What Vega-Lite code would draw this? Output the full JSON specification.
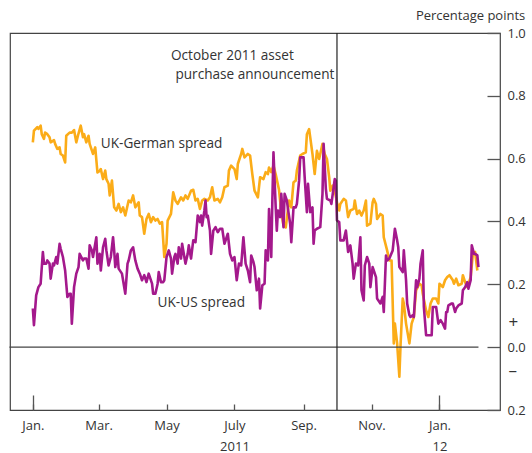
{
  "$schema": "https://vega.github.io/schema/vega-lite/v6.json",
  "width": 490,
  "height": 377,
  "autosize": {"type": "none"},
  "padding": {"left": 10, "top": 33, "right": 32, "bottom": 43},
  "background": "white",
  "title": {"text": "Percentage points", "anchor": "end", "frame": "bounds", "font": "Open Sans", "fontSize": 13, "fontWeight": "normal", "color": "#333", "offset": 4},
  "config": {
    "view": {"stroke": "#444", "strokeWidth": 1.2},
    "axis": {"grid": false, "domain": false, "tickColor": "#555", "tickWidth": 1.3, "labelColor": "#333", "labelFont": "Open Sans", "labelFontSize": 13, "title": null, "labelOverlap": false, "labelFlush": false, "labelBound": false}
  },
  "resolve": {"axis": {"x": "independent", "y": "independent"}},
  "layer": [
    {
      "data": {"values": [
        {"date":"2011-01-01","v":0.652},{"date":"2011-01-02","v":0.689},{"date":"2011-01-05","v":0.700},{"date":"2011-01-06","v":0.695},{"date":"2011-01-08","v":0.705},{"date":"2011-01-09","v":0.678},{"date":"2011-01-11","v":0.663},{"date":"2011-01-12","v":0.683},{"date":"2011-01-14","v":0.678},{"date":"2011-01-16","v":0.668},{"date":"2011-01-17","v":0.652},{"date":"2011-01-20","v":0.659},{"date":"2011-01-21","v":0.647},{"date":"2011-01-23","v":0.631},{"date":"2011-01-25","v":0.636},{"date":"2011-01-26","v":0.615},{"date":"2011-01-28","v":0.610},{"date":"2011-01-30","v":0.588},{"date":"2011-01-31","v":0.673},
        {"date":"2011-02-03","v":0.683},{"date":"2011-02-05","v":0.683},{"date":"2011-02-07","v":0.691},{"date":"2011-02-09","v":0.652},{"date":"2011-02-11","v":0.680},{"date":"2011-02-13","v":0.705},{"date":"2011-02-15","v":0.668},{"date":"2011-02-16","v":0.678},{"date":"2011-02-18","v":0.652},{"date":"2011-02-20","v":0.673},{"date":"2011-02-21","v":0.647},{"date":"2011-02-24","v":0.615},{"date":"2011-02-26","v":0.636},{"date":"2011-02-28","v":0.556},
        {"date":"2011-03-02","v":0.561},{"date":"2011-03-03","v":0.567},{"date":"2011-03-05","v":0.535},{"date":"2011-03-07","v":0.562},{"date":"2011-03-08","v":0.535},{"date":"2011-03-10","v":0.520},{"date":"2011-03-11","v":0.483},{"date":"2011-03-13","v":0.530},{"date":"2011-03-15","v":0.445},{"date":"2011-03-17","v":0.435},{"date":"2011-03-19","v":0.456},{"date":"2011-03-21","v":0.430},{"date":"2011-03-23","v":0.445},{"date":"2011-03-25","v":0.419},{"date":"2011-03-28","v":0.467},{"date":"2011-03-30","v":0.461},
        {"date":"2011-04-01","v":0.483},{"date":"2011-04-03","v":0.445},{"date":"2011-04-06","v":0.461},{"date":"2011-04-07","v":0.419},{"date":"2011-04-09","v":0.414},{"date":"2011-04-11","v":0.361},{"date":"2011-04-13","v":0.408},{"date":"2011-04-15","v":0.424},{"date":"2011-04-17","v":0.398},{"date":"2011-04-19","v":0.414},{"date":"2011-04-21","v":0.403},{"date":"2011-04-23","v":0.408},{"date":"2011-04-25","v":0.393},{"date":"2011-04-27","v":0.398},{"date":"2011-04-29","v":0.287},
        {"date":"2011-05-01","v":0.329},{"date":"2011-05-02","v":0.403},{"date":"2011-05-05","v":0.424},{"date":"2011-05-07","v":0.493},{"date":"2011-05-09","v":0.467},{"date":"2011-05-11","v":0.456},{"date":"2011-05-14","v":0.477},{"date":"2011-05-16","v":0.467},{"date":"2011-05-18","v":0.483},{"date":"2011-05-20","v":0.472},{"date":"2011-05-23","v":0.498},{"date":"2011-05-25","v":0.501},{"date":"2011-05-27","v":0.467},{"date":"2011-05-29","v":0.472},{"date":"2011-05-31","v":0.440},
        {"date":"2011-06-02","v":0.467},{"date":"2011-06-04","v":0.472},{"date":"2011-06-07","v":0.467},{"date":"2011-06-09","v":0.477},{"date":"2011-06-11","v":0.509},{"date":"2011-06-13","v":0.467},{"date":"2011-06-16","v":0.472},{"date":"2011-06-18","v":0.461},{"date":"2011-06-20","v":0.477},{"date":"2011-06-22","v":0.509},{"date":"2011-06-25","v":0.514},{"date":"2011-06-26","v":0.562},{"date":"2011-06-28","v":0.578},
        {"date":"2011-07-01","v":0.567},{"date":"2011-07-03","v":0.535},{"date":"2011-07-04","v":0.583},{"date":"2011-07-07","v":0.615},{"date":"2011-07-08","v":0.631},{"date":"2011-07-10","v":0.604},{"date":"2011-07-13","v":0.615},{"date":"2011-07-15","v":0.610},{"date":"2011-07-17","v":0.551},{"date":"2011-07-19","v":0.498},{"date":"2011-07-22","v":0.477},{"date":"2011-07-24","v":0.541},{"date":"2011-07-27","v":0.535},{"date":"2011-07-29","v":0.557},{"date":"2011-07-31","v":0.551},
        {"date":"2011-08-01","v":0.572},{"date":"2011-08-03","v":0.557},{"date":"2011-08-05","v":0.578},{"date":"2011-08-07","v":0.55},{"date":"2011-08-10","v":0.50},{"date":"2011-08-12","v":0.43},{"date":"2011-08-14","v":0.387},{"date":"2011-08-16","v":0.381},{"date":"2011-08-19","v":0.467},{"date":"2011-08-21","v":0.445},{"date":"2011-08-23","v":0.525},{"date":"2011-08-25","v":0.530},{"date":"2011-08-26","v":0.562},{"date":"2011-08-29","v":0.610},{"date":"2011-08-31","v":0.615},
        {"date":"2011-09-03","v":0.620},{"date":"2011-09-04","v":0.678},{"date":"2011-09-06","v":0.694},{"date":"2011-09-07","v":0.668},{"date":"2011-09-09","v":0.615},{"date":"2011-09-11","v":0.551},{"date":"2011-09-13","v":0.625},{"date":"2011-09-15","v":0.599},{"date":"2011-09-16","v":0.615},{"date":"2011-09-18","v":0.647},{"date":"2011-09-20","v":0.615},{"date":"2011-09-22","v":0.599},{"date":"2011-09-24","v":0.541},{"date":"2011-09-25","v":0.498},{"date":"2011-09-27","v":0.514},{"date":"2011-09-29","v":0.498},
        {"date":"2011-10-01","v":0.461},{"date":"2011-10-03","v":0.435},{"date":"2011-10-04","v":0.456},{"date":"2011-10-07","v":0.472},{"date":"2011-10-09","v":0.467},{"date":"2011-10-11","v":0.414},{"date":"2011-10-13","v":0.435},{"date":"2011-10-16","v":0.440},{"date":"2011-10-17","v":0.467},{"date":"2011-10-19","v":0.424},{"date":"2011-10-21","v":0.435},{"date":"2011-10-23","v":0.419},{"date":"2011-10-25","v":0.435},{"date":"2011-10-27","v":0.467},{"date":"2011-10-28","v":0.387},{"date":"2011-10-31","v":0.393},
        {"date":"2011-11-02","v":0.461},{"date":"2011-11-03","v":0.472},{"date":"2011-11-05","v":0.456},{"date":"2011-11-06","v":0.408},{"date":"2011-11-09","v":0.424},{"date":"2011-11-11","v":0.419},{"date":"2011-11-12","v":0.350},{"date":"2011-11-15","v":0.308},{"date":"2011-11-17","v":0.276},{"date":"2011-11-19","v":0.276},{"date":"2011-11-21","v":0.012},{"date":"2011-11-22","v":0.075},{"date":"2011-11-24","v":0.012},{"date":"2011-11-26","v":-0.094},{"date":"2011-11-27","v":0.001},{"date":"2011-11-29","v":0.155},{"date":"2011-11-30","v":0.139},
        {"date":"2011-12-02","v":0.075},{"date":"2011-12-05","v":0.012},{"date":"2011-12-07","v":0.075},{"date":"2011-12-09","v":0.096},{"date":"2011-12-11","v":0.181},{"date":"2011-12-14","v":0.202},{"date":"2011-12-16","v":0.197},{"date":"2011-12-17","v":0.170},{"date":"2011-12-20","v":0.117},{"date":"2011-12-22","v":0.096},{"date":"2011-12-24","v":0.139},{"date":"2011-12-26","v":0.155},{"date":"2011-12-29","v":0.155},{"date":"2011-12-31","v":0.139},
        {"date":"2012-01-01","v":0.202},{"date":"2012-01-04","v":0.191},{"date":"2012-01-06","v":0.213},{"date":"2012-01-08","v":0.223},{"date":"2012-01-10","v":0.229},{"date":"2012-01-13","v":0.213},{"date":"2012-01-14","v":0.202},{"date":"2012-01-16","v":0.218},{"date":"2012-01-18","v":0.197},{"date":"2012-01-21","v":0.202},{"date":"2012-01-22","v":0.229},{"date":"2012-01-24","v":0.207},{"date":"2012-01-26","v":0.191},{"date":"2012-01-29","v":0.223},{"date":"2012-01-31","v":0.297},{"date":"2012-02-02","v":0.303},{"date":"2012-02-04","v":0.244}
      ]},
      "mark": {"type": "line", "color": "#FBAC18", "strokeWidth": 2.6, "strokeJoin": "round"},
      "encoding": {
        "x": {"field": "date", "type": "temporal",
          "scale": {"type": "utc", "domain": [{"year": 2010, "month": 12, "date": 11, "hours": 12, "utc": true}, {"year": 2012, "month": 2, "date": 24, "hours": 8, "utc": true}]},
          "axis": {"orient": "bottom", "tickSize": -6, "labelPadding": 15,
            "values": [{"year": 2011, "month": 1, "date": 1, "utc": true}, {"year": 2011, "month": 3, "date": 1, "utc": true}, {"year": 2011, "month": 5, "date": 1, "utc": true}, {"year": 2011, "month": 7, "date": 1, "utc": true}, {"year": 2011, "month": 9, "date": 1, "utc": true}, {"year": 2011, "month": 11, "date": 1, "utc": true}, {"year": 2012, "month": 1, "date": 1, "utc": true}],
            "labelExpr": "({'01':'Jan.','03':'Mar.','05':'May','07':'July','09':'Sep.','11':'Nov.'})[utcFormat(datum.value,'%m')]"}},
        "y": {"field": "v", "type": "quantitative",
          "scale": {"domain": [-0.2, 1.0], "nice": false, "zero": false},
          "axis": {"orient": "right", "tickSize": -13, "labelPadding": 20, "values": [-0.2, 0, 0.2, 0.4, 0.6, 0.8, 1.0], "labelExpr": "format(abs(datum.value), '.1f')"}}
      }
    },
    {
      "data": {"values": [
        {"date":"2011-01-01","v":0.123},{"date":"2011-01-02","v":0.070},{"date":"2011-01-04","v":0.165},{"date":"2011-01-06","v":0.191},{"date":"2011-01-08","v":0.202},{"date":"2011-01-10","v":0.303},{"date":"2011-01-11","v":0.266},{"date":"2011-01-13","v":0.266},{"date":"2011-01-14","v":0.276},{"date":"2011-01-16","v":0.266},{"date":"2011-01-17","v":0.218},{"date":"2011-01-19","v":0.266},{"date":"2011-01-20","v":0.260},{"date":"2011-01-22","v":0.287},{"date":"2011-01-23","v":0.266},{"date":"2011-01-25","v":0.329},{"date":"2011-01-26","v":0.313},{"date":"2011-01-28","v":0.287},{"date":"2011-01-30","v":0.244},
        {"date":"2011-02-01","v":0.160},{"date":"2011-02-03","v":0.170},{"date":"2011-02-04","v":0.170},{"date":"2011-02-05","v":0.075},{"date":"2011-02-07","v":0.191},{"date":"2011-02-09","v":0.234},{"date":"2011-02-11","v":0.255},{"date":"2011-02-12","v":0.297},{"date":"2011-02-15","v":0.276},{"date":"2011-02-16","v":0.282},{"date":"2011-02-18","v":0.282},{"date":"2011-02-20","v":0.250},{"date":"2011-02-21","v":0.324},{"date":"2011-02-23","v":0.308},{"date":"2011-02-24","v":0.287},{"date":"2011-02-27","v":0.350},{"date":"2011-02-28","v":0.266},
        {"date":"2011-03-02","v":0.297},{"date":"2011-03-03","v":0.244},{"date":"2011-03-05","v":0.318},{"date":"2011-03-07","v":0.345},{"date":"2011-03-08","v":0.308},{"date":"2011-03-10","v":0.260},{"date":"2011-03-12","v":0.287},{"date":"2011-03-14","v":0.350},{"date":"2011-03-15","v":0.308},{"date":"2011-03-16","v":0.255},{"date":"2011-03-18","v":0.297},{"date":"2011-03-19","v":0.250},{"date":"2011-03-22","v":0.234},{"date":"2011-03-23","v":0.213},{"date":"2011-03-25","v":0.170},{"date":"2011-03-27","v":0.266},{"date":"2011-03-28","v":0.276},{"date":"2011-03-30","v":0.308},
        {"date":"2011-04-01","v":0.318},{"date":"2011-04-03","v":0.276},{"date":"2011-04-05","v":0.250},{"date":"2011-04-07","v":0.234},{"date":"2011-04-09","v":0.213},{"date":"2011-04-11","v":0.229},{"date":"2011-04-13","v":0.207},{"date":"2011-04-15","v":0.234},{"date":"2011-04-18","v":0.202},{"date":"2011-04-19","v":0.170},{"date":"2011-04-21","v":0.170},{"date":"2011-04-23","v":0.202},{"date":"2011-04-24","v":0.239},{"date":"2011-04-26","v":0.207},{"date":"2011-04-28","v":0.207},{"date":"2011-04-29","v":0.213},
        {"date":"2011-05-01","v":0.287},{"date":"2011-05-03","v":0.308},{"date":"2011-05-05","v":0.282},{"date":"2011-05-06","v":0.234},{"date":"2011-05-08","v":0.287},{"date":"2011-05-09","v":0.297},{"date":"2011-05-11","v":0.266},{"date":"2011-05-12","v":0.318},{"date":"2011-05-14","v":0.282},{"date":"2011-05-15","v":0.329},{"date":"2011-05-17","v":0.287},{"date":"2011-05-18","v":0.266},{"date":"2011-05-20","v":0.297},{"date":"2011-05-21","v":0.324},{"date":"2011-05-23","v":0.282},{"date":"2011-05-25","v":0.340},{"date":"2011-05-27","v":0.334},{"date":"2011-05-29","v":0.419},{"date":"2011-05-31","v":0.398},
        {"date":"2011-06-01","v":0.419},{"date":"2011-06-02","v":0.387},{"date":"2011-06-04","v":0.435},{"date":"2011-06-05","v":0.467},{"date":"2011-06-06","v":0.414},{"date":"2011-06-07","v":0.419},{"date":"2011-06-09","v":0.371},{"date":"2011-06-10","v":0.297},{"date":"2011-06-12","v":0.371},{"date":"2011-06-14","v":0.382},{"date":"2011-06-16","v":0.366},{"date":"2011-06-18","v":0.377},{"date":"2011-06-20","v":0.377},{"date":"2011-06-22","v":0.329},{"date":"2011-06-25","v":0.361},{"date":"2011-06-27","v":0.297},{"date":"2011-06-29","v":0.276},
        {"date":"2011-07-01","v":0.287},{"date":"2011-07-03","v":0.213},{"date":"2011-07-05","v":0.266},{"date":"2011-07-07","v":0.260},{"date":"2011-07-09","v":0.350},{"date":"2011-07-11","v":0.266},{"date":"2011-07-13","v":0.244},{"date":"2011-07-15","v":0.207},{"date":"2011-07-16","v":0.292},{"date":"2011-07-18","v":0.271},{"date":"2011-07-19","v":0.255},{"date":"2011-07-21","v":0.181},{"date":"2011-07-23","v":0.218},{"date":"2011-07-24","v":0.123},{"date":"2011-07-26","v":0.197},{"date":"2011-07-28","v":0.202},{"date":"2011-07-29","v":0.308},{"date":"2011-07-31","v":0.276},
        {"date":"2011-08-01","v":0.440},{"date":"2011-08-03","v":0.287},{"date":"2011-08-04","v":0.467},{"date":"2011-08-05","v":0.620},{"date":"2011-08-07","v":0.445},{"date":"2011-08-08","v":0.371},{"date":"2011-08-09","v":0.435},{"date":"2011-08-11","v":0.414},{"date":"2011-08-12","v":0.488},{"date":"2011-08-14","v":0.382},{"date":"2011-08-15","v":0.488},{"date":"2011-08-17","v":0.467},{"date":"2011-08-18","v":0.440},{"date":"2011-08-20","v":0.393},{"date":"2011-08-21","v":0.334},{"date":"2011-08-23","v":0.445},{"date":"2011-08-25","v":0.445},{"date":"2011-08-26","v":0.456},{"date":"2011-08-28","v":0.530},{"date":"2011-08-29","v":0.604},
        {"date":"2011-09-01","v":0.604},{"date":"2011-09-02","v":0.541},{"date":"2011-09-04","v":0.430},{"date":"2011-09-05","v":0.520},{"date":"2011-09-07","v":0.430},{"date":"2011-09-09","v":0.445},{"date":"2011-09-10","v":0.329},{"date":"2011-09-11","v":0.371},{"date":"2011-09-13","v":0.377},{"date":"2011-09-16","v":0.382},{"date":"2011-09-18","v":0.488},{"date":"2011-09-19","v":0.647},{"date":"2011-09-21","v":0.504},{"date":"2011-09-22","v":0.472},{"date":"2011-09-25","v":0.467},{"date":"2011-09-26","v":0.456},{"date":"2011-09-28","v":0.509},{"date":"2011-09-29","v":0.535},{"date":"2011-09-30","v":0.530},
        {"date":"2011-10-01","v":0.403},{"date":"2011-10-03","v":0.398},{"date":"2011-10-04","v":0.340},{"date":"2011-10-07","v":0.340},{"date":"2011-10-09","v":0.371},{"date":"2011-10-11","v":0.303},{"date":"2011-10-13","v":0.324},{"date":"2011-10-15","v":0.266},{"date":"2011-10-16","v":0.218},{"date":"2011-10-18","v":0.266},{"date":"2011-10-20","v":0.260},{"date":"2011-10-22","v":0.350},{"date":"2011-10-23","v":0.181},{"date":"2011-10-25","v":0.149},{"date":"2011-10-26","v":0.260},{"date":"2011-10-28","v":0.287},{"date":"2011-10-30","v":0.266},{"date":"2011-10-31","v":0.191},
        {"date":"2011-11-02","v":0.255},{"date":"2011-11-03","v":0.244},{"date":"2011-11-05","v":0.223},{"date":"2011-11-06","v":0.155},{"date":"2011-11-09","v":0.139},{"date":"2011-11-11","v":0.160},{"date":"2011-11-12","v":0.112},{"date":"2011-11-14","v":0.292},{"date":"2011-11-15","v":0.276},{"date":"2011-11-17","v":0.282},{"date":"2011-11-20","v":0.308},{"date":"2011-11-22","v":0.377},{"date":"2011-11-24","v":0.340},{"date":"2011-11-25","v":0.318},{"date":"2011-11-26","v":0.255},{"date":"2011-11-29","v":0.239},{"date":"2011-11-30","v":0.308},
        {"date":"2011-12-02","v":0.213},{"date":"2011-12-03","v":0.139},{"date":"2011-12-05","v":0.102},{"date":"2011-12-06","v":0.096},{"date":"2011-12-08","v":0.102},{"date":"2011-12-09","v":0.096},{"date":"2011-12-11","v":0.213},{"date":"2011-12-12","v":0.191},{"date":"2011-12-14","v":0.218},{"date":"2011-12-15","v":0.266},{"date":"2011-12-17","v":0.308},{"date":"2011-12-18","v":0.128},{"date":"2011-12-20","v":0.038},{"date":"2011-12-23","v":0.038},{"date":"2011-12-25","v":0.038},{"date":"2011-12-26","v":0.128},{"date":"2011-12-28","v":0.128},{"date":"2011-12-29","v":0.128},{"date":"2011-12-31","v":0.075},
        {"date":"2012-01-02","v":0.086},{"date":"2012-01-04","v":0.075},{"date":"2012-01-06","v":0.059},{"date":"2012-01-07","v":0.112},{"date":"2012-01-08","v":0.112},{"date":"2012-01-09","v":0.133},{"date":"2012-01-12","v":0.139},{"date":"2012-01-13","v":0.139},{"date":"2012-01-15","v":0.112},{"date":"2012-01-16","v":0.123},{"date":"2012-01-18","v":0.133},{"date":"2012-01-21","v":0.139},{"date":"2012-01-22","v":0.181},{"date":"2012-01-24","v":0.191},{"date":"2012-01-26","v":0.207},{"date":"2012-01-27","v":0.186},{"date":"2012-01-29","v":0.213},{"date":"2012-01-30","v":0.324},{"date":"2012-02-01","v":0.297},{"date":"2012-02-02","v":0.297},{"date":"2012-02-04","v":0.292},{"date":"2012-02-05","v":0.255}
      ]},
      "mark": {"type": "line", "color": "#A4198C", "strokeWidth": 2.6, "strokeJoin": "round"},
      "encoding": {
        "x": {"field": "date", "type": "temporal",
          "scale": {"type": "utc", "domain": [{"year": 2010, "month": 12, "date": 11, "hours": 12, "utc": true}, {"year": 2012, "month": 2, "date": 24, "hours": 8, "utc": true}]},
          "axis": null},
        "y": {"field": "v", "type": "quantitative", "scale": {"domain": [-0.2, 1.0], "nice": false, "zero": false}, "axis": null}
      }
    },
    {
      "data": {"values": [{"d1": "2010-12-11", "d2": "2012-02-05", "v": 0}]},
      "mark": {"type": "rule", "color": "#444", "strokeWidth": 1.3},
      "encoding": {
        "x": {"field": "d1", "type": "temporal",
          "scale": {"type": "utc", "domain": [{"year": 2010, "month": 12, "date": 11, "hours": 12, "utc": true}, {"year": 2012, "month": 2, "date": 24, "hours": 8, "utc": true}]},
          "axis": {"orient": "bottom", "tickSize": -15, "labels": false, "values": [{"year": 2011, "month": 1, "date": 1, "utc": true}, {"year": 2012, "month": 1, "date": 1, "utc": true}]}},
        "x2": {"field": "d2"},
        "y": {"field": "v", "type": "quantitative", "scale": {"domain": [-0.2, 1.0], "nice": false, "zero": false}, "axis": null}
      }
    },
    {
      "data": {"values": [{"d": "2011-10-01"}]},
      "mark": {"type": "rule", "color": "#222", "strokeWidth": 1.2},
      "encoding": {
        "x": {"field": "d", "type": "temporal",
          "scale": {"type": "utc", "domain": [{"year": 2010, "month": 12, "date": 11, "hours": 12, "utc": true}, {"year": 2012, "month": 2, "date": 24, "hours": 8, "utc": true}]},
          "axis": {"orient": "bottom", "ticks": false, "labelPadding": 30, "values": [{"year": 2011, "month": 7, "date": 1, "utc": true}, {"year": 2012, "month": 1, "date": 1, "utc": true}], "labelExpr": "utcFormat(datum.value,'%m') == '07' ? '2011' : '12'"}}
      }
    },
    {
      "data": {"values": [
        {"d": "2011-05-05", "v": 0.927, "label": "October 2011 asset"},
        {"d": "2011-05-09", "v": 0.867, "label": "purchase announcement"},
        {"d": "2011-03-03", "v": 0.648, "label": "UK-German spread"},
        {"d": "2011-04-23", "v": 0.140, "label": "UK-US spread"}
      ]},
      "mark": {"type": "text", "align": "left", "baseline": "middle", "font": "Open Sans", "fontSize": 13.6, "color": "#333"},
      "encoding": {
        "x": {"field": "d", "type": "temporal",
          "scale": {"type": "utc", "domain": [{"year": 2010, "month": 12, "date": 11, "hours": 12, "utc": true}, {"year": 2012, "month": 2, "date": 24, "hours": 8, "utc": true}]},
          "axis": null},
        "y": {"field": "v", "type": "quantitative", "scale": {"domain": [-0.2, 1.0], "nice": false, "zero": false},
          "axis": {"orient": "right", "ticks": false, "labelPadding": 8, "labelFontSize": 17, "values": [0.079, -0.073], "labelExpr": "datum.value > 0 ? '+' : '–'"}},
        "text": {"field": "label"}
      }
    }
  ]
}
